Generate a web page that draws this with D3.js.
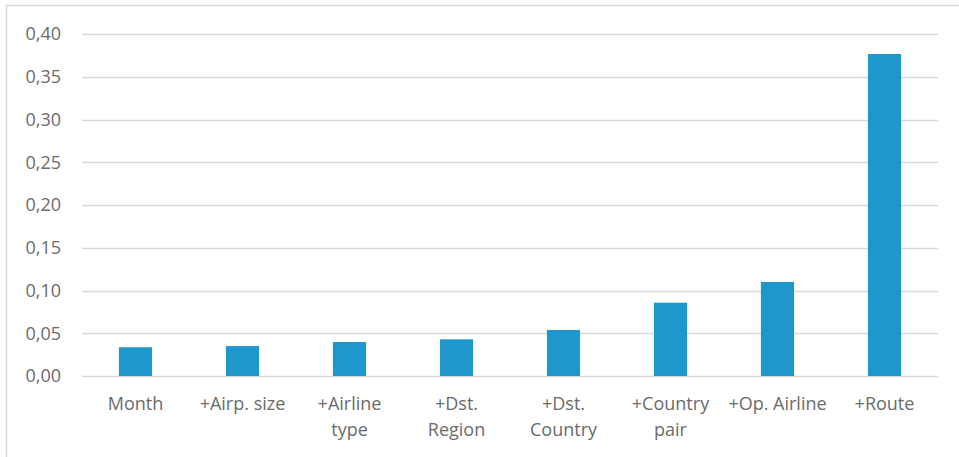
<!DOCTYPE html>
<html>
<head>
<meta charset="utf-8">
<script src="https://cdn.jsdelivr.net/npm/d3@7"></script>
<style>
  body { margin: 0; background: #fff; }
  text { font-family: "Open Sans", "Noto Sans", sans-serif; fill: #6b6b6b; }
</style>
</head>
<body>
<svg id="chart"></svg>
<script>
// Data
const categories = [
  ["Month"], ["+Airp. size"], ["+Airline", "type"], ["+Dst.", "Region"],
  ["+Dst.", "Country"], ["+Country", "pair"], ["+Op. Airline"], ["+Route"]
];
const values = [0.0336, 0.035, 0.0398, 0.0429, 0.0538, 0.0857, 0.110, 0.3766];
const yTicks = [0, 0.05, 0.10, 0.15, 0.20, 0.25, 0.30, 0.35, 0.40];

const width = 959, height = 457;
const margin = { top: 34, right: 21, bottom: 81, left: 82 };

const svg = d3.select("#chart").attr("width", width).attr("height", height);

// outer frame (only top/left visible in the crop)
svg.append("rect")
  .attr("x", 6.5).attr("y", 5.5)
  .attr("width", width + 10).attr("height", height + 10)
  .attr("fill", "none").attr("stroke", "#d9d9d9").attr("stroke-width", 1.5);

const x = d3.scaleBand()
  .domain(d3.range(categories.length))
  .range([margin.left, width - margin.right])
  .paddingInner(0.69).paddingOuter(0.345);

const y = d3.scaleLinear()
  .domain([0, 0.40])
  .range([height - margin.bottom, margin.top]);

// gridlines
svg.append("g")
  .selectAll("line")
  .data(yTicks)
  .join("line")
  .attr("x1", margin.left).attr("x2", width - margin.right)
  .attr("y1", d => Math.round(y(d)) + 0.5).attr("y2", d => Math.round(y(d)) + 0.5)
  .attr("stroke", "#d9d9d9").attr("stroke-width", 1.5);

// y labels
const fmt = d => d.toFixed(2).replace(".", ",");
svg.append("g")
  .selectAll("text")
  .data(yTicks)
  .join("text")
  .attr("x", 61)
  .attr("y", d => y(d))
  .attr("dy", "0.35em")
  .attr("text-anchor", "end")
  .style("font-size", "18px")
  .text(fmt);

// bars
svg.append("g")
  .selectAll("rect")
  .data(values)
  .join("rect")
  .attr("x", (d, i) => x(i))
  .attr("width", x.bandwidth())
  .attr("y", d => y(d))
  .attr("height", d => y(0) - y(d))
  .attr("fill", "#1e97cd");

// x labels
const labels = svg.append("g")
  .selectAll("text")
  .data(categories)
  .join("text")
  .attr("text-anchor", "middle")
  .attr("x", (d, i) => x(i) + x.bandwidth() / 2)
  .attr("y", 410)
  .style("font-size", "18px");

labels.selectAll("tspan")
  .data(d => d)
  .join("tspan")
  .attr("x", function() { return d3.select(this.parentNode).attr("x"); })
  .attr("dy", (d, i) => i === 0 ? 0 : 26)
  .text(d => d);
</script>
</body>
</html>
